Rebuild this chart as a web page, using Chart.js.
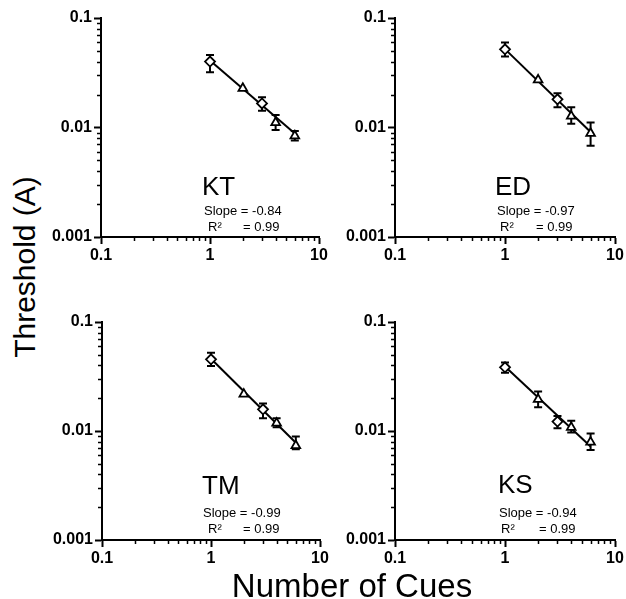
<!DOCTYPE html>
<html>
<head>
<meta charset="utf-8">
<script src="https://cdn.jsdelivr.net/npm/chart.js@4.4.0/dist/chart.umd.min.js"></script>
<style>
  html, body { margin: 0; padding: 0; background: #fff; }
  #fig { position: relative; width: 626px; height: 599px; overflow: hidden;
         font-family: "Liberation Sans", Arial, Helvetica, sans-serif; color: #000; }
  #fig canvas { position: absolute; }
  #ytitle { position: absolute; left: 25px; top: 267px; font-size: 30px; white-space: nowrap;
            transform: translate(-50%, -50%) rotate(-90deg); line-height: 1; }
  #xtitle { position: absolute; left: 352px; top: 569px; font-size: 33px; white-space: nowrap;
            transform: translateX(-50%); line-height: 1; }
</style>
</head>
<body>
<div id="fig">
  <canvas id="pKT"></canvas>
  <canvas id="pED"></canvas>
  <canvas id="pTM"></canvas>
  <canvas id="pKS"></canvas>
  <div id="ytitle">Threshold (A)</div>
  <div id="xtitle">Number of Cues</div>
</div>
<script>
// ---- data ----
const cues = [1, 2, 3, 4, 6];
const xTicks = [0.1, 1, 10];
const yTicks = [0.001, 0.01, 0.1];

const subjects = ['KT', 'ED', 'TM', 'KS'];
const slopes = ['-0.84', '-0.97', '-0.99', '-0.94'];
const rSquared = ['0.99', '0.99', '0.99', '0.99'];

const thresholdKT = [0.0400, 0.0228, 0.0166, 0.0111, 0.0084];
const upperKT     = [0.0460, null,   0.0189, 0.0130, 0.0093];
const lowerKT     = [0.0320, null,   0.0142, 0.0095, 0.0076];
const fitKT       = [0.0410, 0.0088];

const thresholdED = [0.0518, 0.0272, 0.0181, 0.0127, 0.00885];
const upperED     = [0.0596, null,   0.0205, 0.0153, 0.0111];
const lowerED     = [0.0444, null,   0.0153, 0.0108, 0.0068];
const fitED       = [0.0520, 0.0091];

const thresholdTM = [0.0455, 0.0218, 0.0158, 0.0118, 0.00735];
const upperTM     = [0.0523, null,   0.0179, 0.0131, 0.0089];
const lowerTM     = [0.0394, null,   0.0131, 0.0108, 0.0068];
const fitTM       = [0.0460, 0.0078];

const thresholdKS = [0.0384, 0.0195, 0.0122, 0.0108, 0.0079];
const upperKS     = [0.0424, 0.0230, 0.0137, 0.0124, 0.0095];
const lowerKS     = [0.0343, 0.0165, 0.0106, 0.0097, 0.0067];
const fitKS       = [0.0390, 0.0072];

// ---- drawing ----
const FONT = '"Liberation Sans", Arial, Helvetica, sans-serif';
const shapes = ['rectRot', 'triangle', 'rectRot', 'triangle', 'triangle'];
const PAD_L = 60, PAD_T = 18, PAD_R = 16, PAD_B = 34;

const panels = [
  { id: 'pKT', area: { l: 101, t: 18,  r: 319, b: 237 }, y: thresholdKT, hi: upperKT, lo: lowerKT, fit: fitKT, name: 0, txt: { name: [101, 177], slope: [103, 197], r: [107, 213], eq: [142, 213] } },
  { id: 'pED', area: { l: 395, t: 18,  r: 615, b: 237 }, y: thresholdED, hi: upperED, lo: lowerED, fit: fitED, name: 1, txt: { name: [100, 177], slope: [102, 197], r: [105, 213], eq: [141, 213] } },
  { id: 'pTM', area: { l: 102, t: 322, r: 320, b: 540 }, y: thresholdTM, hi: upperTM, lo: lowerTM, fit: fitTM, name: 2, txt: { name: [100, 172], slope: [101, 195], r: [106, 211], eq: [141, 211] } },
  { id: 'pKS', area: { l: 395, t: 322, r: 615, b: 540 }, y: thresholdKS, hi: upperKS, lo: lowerKS, fit: fitKS, name: 3, txt: { name: [103, 171], slope: [104, 195], r: [106, 211], eq: [144, 211] } }
];

// short outward minor ticks on both log axes
const minorTicks = {
  id: 'minorTicks',
  afterDraw(chart) {
    const ctx = chart.ctx, xs = chart.scales.x, ys = chart.scales.y;
    ctx.save();
    ctx.strokeStyle = '#000';
    ctx.lineWidth = 1.5;
    ctx.beginPath();
    for (const d of [0.1, 1]) {
      for (let k = 2; k <= 9; k++) {
        const px = Math.round(xs.getPixelForValue(k * d)) + 0.5;
        ctx.moveTo(px, xs.top);
        ctx.lineTo(px, xs.top + 4);
      }
    }
    for (const d of [0.001, 0.01]) {
      for (let k = 2; k <= 9; k++) {
        const py = Math.round(ys.getPixelForValue(k * d)) + 0.5;
        ctx.moveTo(ys.right, py);
        ctx.lineTo(ys.right - 4, py);
      }
    }
    ctx.stroke();
    ctx.restore();
  }
};

// vertical error bars with caps, drawn beneath the markers
const errorBars = {
  id: 'errorBars',
  beforeDatasetsDraw(chart, args, opts) {
    const ctx = chart.ctx, xs = chart.scales.x, ys = chart.scales.y;
    ctx.save();
    ctx.strokeStyle = '#000';
    ctx.lineWidth = 2;
    opts.hi.forEach((h, i) => {
      const l = opts.lo[i];
      if (h == null || l == null) return;
      const px = xs.getPixelForValue(cues[i]);
      const pt = ys.getPixelForValue(h), pb = ys.getPixelForValue(l);
      ctx.beginPath();
      ctx.moveTo(px, pt); ctx.lineTo(px, pb);
      ctx.moveTo(px - 4, pt); ctx.lineTo(px + 4, pt);
      ctx.moveTo(px - 4, pb); ctx.lineTo(px + 4, pb);
      ctx.stroke();
    });
    ctx.restore();
  }
};

// subject initials and fit statistics
const panelText = {
  id: 'panelText',
  afterDraw(chart, args, opts) {
    const ctx = chart.ctx, a = chart.chartArea, t = opts.txt, i = opts.index;
    ctx.save();
    ctx.fillStyle = '#000';
    ctx.textBaseline = 'alphabetic';
    ctx.textAlign = 'left';
    ctx.font = '26px ' + FONT;
    ctx.fillText(subjects[i], a.left + t.name[0], a.top + t.name[1]);
    ctx.font = '13px ' + FONT;
    ctx.fillText('Slope = ' + slopes[i], a.left + t.slope[0], a.top + t.slope[1]);
    ctx.fillText('R\u00B2', a.left + t.r[0], a.top + t.r[1]);
    ctx.fillText('= ' + rSquared[i], a.left + t.eq[0], a.top + t.eq[1]);
    ctx.restore();
  }
};

function axis(min, max, ticks, isX) {
  return {
    type: 'logarithmic',
    position: isX ? 'bottom' : 'left',
    min: min, max: max,
    afterBuildTicks: s => { s.ticks = ticks.map(v => ({ value: v })); },
    afterFit: s => { if (isX) s.height = PAD_B; else s.width = PAD_L; },
    grid: { drawOnChartArea: false, drawTicks: true, tickLength: 7, tickWidth: 2, tickColor: '#000' },
    border: { display: true, color: '#000', width: 2 },
    ticks: {
      autoSkip: false, maxRotation: 0, minRotation: 0,
      padding: isX ? 2 : 2,
      color: '#000',
      font: { family: FONT, size: 16, weight: 'bold' },
      callback: v => String(v)
    }
  };
}

panels.forEach(p => {
  const cv = document.getElementById(p.id);
  const w = p.area.r - p.area.l + PAD_L + PAD_R;
  const h = p.area.b - p.area.t + PAD_T + PAD_B;
  cv.width = w; cv.height = h;
  cv.style.width = w + 'px'; cv.style.height = h + 'px';
  cv.style.left = (p.area.l - PAD_L) + 'px';
  cv.style.top = (p.area.t - PAD_T) + 'px';

  new Chart(cv, {
    type: 'scatter',
    data: {
      datasets: [
        {
          type: 'scatter',
          data: cues.map((c, i) => ({ x: c, y: p.y[i] })),
          pointStyle: shapes,
          pointRadius: 5,
          pointBorderWidth: 1.8,
          pointBackgroundColor: '#fff',
          pointBorderColor: '#000',
          order: 1
        },
        {
          type: 'line',
          data: [{ x: cues[0], y: p.fit[0] }, { x: cues[cues.length - 1], y: p.fit[1] }],
          borderColor: '#000',
          borderWidth: 2,
          pointRadius: 0,
          fill: false,
          order: 2
        }
      ]
    },
    options: {
      responsive: false,
      animation: false,
      devicePixelRatio: 1,
      layout: { padding: { left: 0, top: PAD_T, right: PAD_R, bottom: 0 } },
      plugins: {
        legend: { display: false },
        tooltip: { enabled: false },
        errorBars: { hi: p.hi, lo: p.lo },
        panelText: { txt: p.txt, index: p.name }
      },
      scales: {
        x: axis(0.1, 10, xTicks, true),
        y: axis(0.001, 0.1, yTicks, false)
      }
    },
    plugins: [errorBars, minorTicks, panelText]
  });
});
</script>
</body>
</html>
